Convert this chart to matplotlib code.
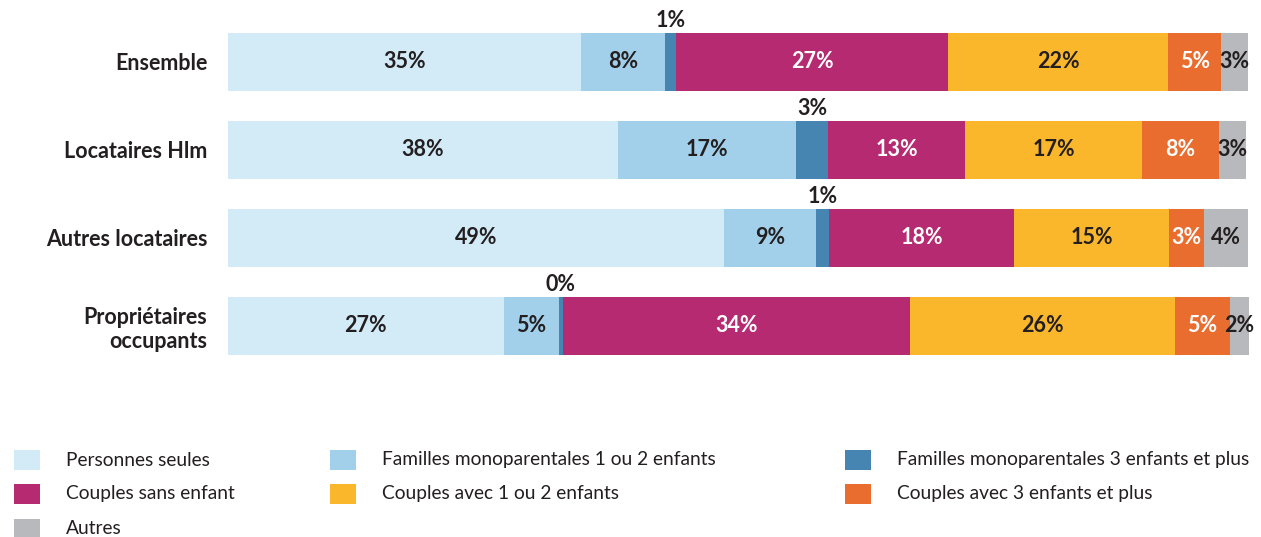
import matplotlib.pyplot as plt
from matplotlib.patches import Rectangle

plt.rcParams['font.family'] = ['Lato', 'DejaVu Sans']

# groupes de menages
categories = ['Ensemble', 'Locataires Hlm', 'Autres locataires', 'Propriétaires\noccupants']
series = ['Personnes seules', 'Familles monoparentales 1 ou 2 enfants',
          'Familles monoparentales 3 enfants et plus', 'Couples sans enfant',
          'Couples avec 1 ou 2 enfants', 'Couples avec 3 enfants et plus', 'Autres']

# parts en % (une liste par type de menage)
personnes_seules = [34.6, 38.2, 48.6, 27.0]
familles_1_2 = [8.2, 17.4, 9.0, 5.4]
familles_3plus = [1.1, 3.2, 1.3, 0.4]
couples_sans = [26.6, 13.4, 18.1, 34.0]
couples_1_2 = [21.6, 17.3, 15.2, 26.0]
couples_3plus = [5.2, 7.6, 3.4, 5.3]
autres = [2.6, 2.6, 4.3, 1.9]

values = [personnes_seules, familles_1_2, familles_3plus, couples_sans,
          couples_1_2, couples_3plus, autres]
colors = ['#d3eaf7', '#a2d0ea', '#4685b1', '#b52a70', '#fbb72b', '#ea6d30', '#b8b9bc']
text_colors = ['#231f20', '#231f20', '#231f20', 'white', '#231f20', 'white', '#231f20']
above = [False, False, True, False, False, False, False]

fig = plt.figure(figsize=(12.61, 5.37), dpi=100)
W, H = 1261, 537
ax = fig.add_axes([228 / W, 1 - 370 / H, 1021 / W, 352 / H])

ypos = list(range(len(categories)))
left = [0] * len(categories)
for i, vals in enumerate(values):
    ax.barh(ypos, vals, left=left, height=0.66, color=colors[i], edgecolor='none')
    for j, v in enumerate(vals):
        x = left[j] + v / 2
        lab = f"{v:.0f}%"
        if above[i]:
            # segment trop fin : etiquette au-dessus de la barre
            ax.text(x, j - 0.35, lab, ha='center', va='bottom', fontsize=15.5,
                    fontweight='bold', color='#231f20')
        else:
            ax.text(x, j, lab, ha='center', va='center', fontsize=15.5,
                    fontweight='bold', color=text_colors[i])
    left = [a + b for a, b in zip(left, vals)]

ax.set_xlim(0, 100)
ax.set_ylim(3.5, -0.5)
ax.set_yticks(ypos)
ax.set_yticklabels(categories, fontsize=15.5, fontweight='bold', color='#231f20',
                   linespacing=1.15)
ax.tick_params(axis='y', length=0, pad=15)
ax.set_xticks([])
for s in ax.spines.values():
    s.set_visible(False)

# legende a la main, 3 colonnes
legend_cols = [14, 330, 845]
legend_rows = [460, 494, 529]
for k, name in enumerate(series):
    cx = legend_cols[k % 3]
    cy = legend_rows[k // 3]
    fig.add_artist(Rectangle((cx / W, 1 - (cy + 10) / H), 26 / W, 20 / H,
                             transform=fig.transFigure, color=colors[k], lw=0))
    fig.text((cx + 52) / W, 1 - cy / H, name, ha='left', va='center',
             fontsize=13.8, color='#231f20')

fig.savefig('out.png', dpi=100)
